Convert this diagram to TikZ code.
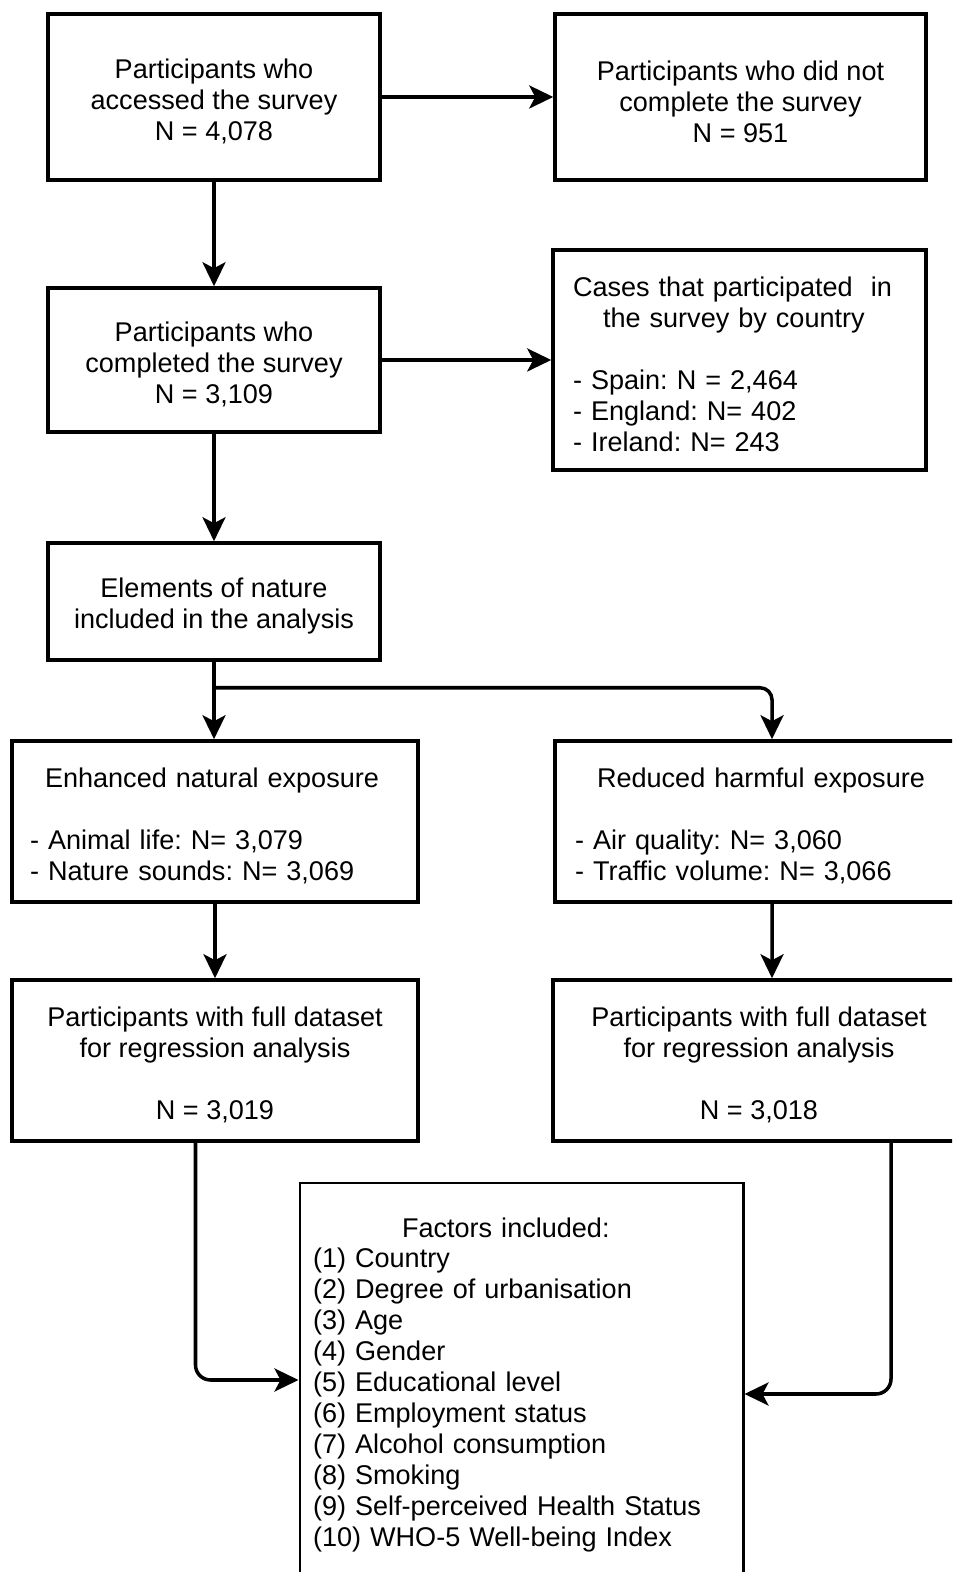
\documentclass[tikz,border=0pt]{standalone}
\usepackage{fontspec}
\setmainfont{Liberation Sans}
\usepackage{tikz}
\usetikzlibrary{arrows.meta,calc}
\frenchspacing
\newcommand{\topgap}{\rule{0pt}{0.58cm}}

\begin{document}
\begin{tikzpicture}[x=1cm,y=1cm,
  box/.style={draw,line width=2pt,inner sep=0pt,font=\fontsize{15.4}{17.6}\selectfont},
  link/.style={line width=2pt,-{Stealth[length=0.48cm,width=0.46cm,inset=0.12cm]}}]
\clip (0,0) rectangle (19.04,31.44);
\fill[white] (0,0) rectangle (19.04,31.44);
% top row
\node[box,minimum width=6.64cm,minimum height=3.32cm,align=center] (accessed) at (4.28,29.50) {\topgap Participants who\\accessed the survey\\N = 4,078};
\node[box,minimum width=7.42cm,minimum height=3.32cm,align=center] (notdone) at (14.81,29.50) {\topgap Participants who did not\\complete the survey\\N = 951};
% second row
\node[box,minimum width=6.64cm,minimum height=2.88cm,align=center] (completed) at (4.28,24.24) {\topgap Participants who\\completed the survey\\N = 3,109};
\node[box,minimum width=7.46cm,minimum height=4.40cm,text width=6.66cm,inner xsep=0.40cm,align=left] (bycountry) at (14.79,24.24) {\topgap Cases that participated\ \ in\\\hspace*{0.6cm}the survey by country\\[0.62cm]- Spain: N = 2,464\\- England: N= 402\\- Ireland: N= 243};
\node[box,minimum width=6.64cm,minimum height=2.34cm,align=center] (elements) at (4.28,19.41) {\topgap Elements of nature\\included in the analysis};
% exposure groups
\node[box,minimum width=8.12cm,minimum height=3.22cm,text width=7.40cm,inner xsep=0.36cm,align=left] (natural) at (4.30,15.01) {\topgap\hspace*{0.30cm}Enhanced natural exposure\\[0.62cm]- Animal life: N= 3,079\\- Nature sounds: N= 3,069};
\node[box,minimum width=8.20cm,minimum height=3.22cm,text width=7.40cm,inner xsep=0.40cm,align=left] (harmful) at (15.20,15.01) {\topgap\hspace*{0.44cm}Reduced harmful exposure\\[0.62cm]- Air quality: N= 3,060\\- Traffic volume: N= 3,066};
\node[box,minimum width=8.12cm,minimum height=3.22cm,align=center] (fullleft) at (4.30,10.23) {\topgap Participants with full dataset\\for regression analysis\\[0.62cm]N = 3,019};
\node[box,minimum width=8.24cm,minimum height=3.22cm,align=center] (fullright) at (15.18,10.23) {\topgap Participants with full dataset\\for regression analysis\\[0.62cm]N = 3,018};
% factors
\node[box,line width=1.7pt,minimum width=8.86cm,minimum height=7.88cm,text width=8.34cm,inner xsep=0.26cm,align=left] (factors) at (10.43,3.84) {\topgap\hspace*{1.78cm}Factors included:\\(1) Country\\(2) Degree of urbanisation\\(3) Age\\(4) Gender\\(5) Educational level\\(6) Employment status\\(7) Alcohol consumption\\(8) Smoking\\(9) Self-perceived Health Status\\(10) WHO-5 Well-being Index};

\draw[link] (accessed) -- (notdone);
\draw[link] (accessed) -- (completed);
\draw[link] (completed) -- (bycountry);
\draw[link] (completed) -- (elements);
\draw[link] (elements.south) -- (elements.south |- natural.north);
\coordinate (split) at ($(elements.south)+(0,-0.52)$);
\draw[link,rounded corners=0.24cm] (split) -| ($(harmful.north)+(0.24,0)$);
\draw[link] (natural) -- (fullleft);
\draw[link] ($(harmful.south)+(0.24,0)$) -- ($(fullright.north)+(0.26,0)$);
\draw[link,rounded corners=0.30cm] ($(fullleft.south)+(-0.39,0)$) |- (factors.west);
\draw[link,rounded corners=0.30cm] ($(fullright.south)+(2.64,0)$) |- ($(factors.east)+(0,-0.28)$);
\end{tikzpicture}
\end{document}
